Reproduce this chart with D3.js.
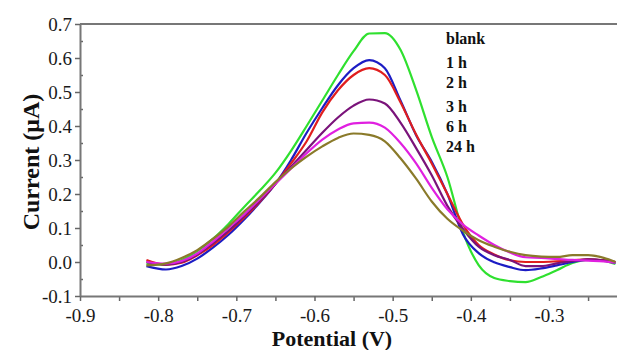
<!DOCTYPE html>
<html>
<head>
<meta charset="utf-8">
<script src="https://cdn.jsdelivr.net/npm/d3@7"></script>
<style>
   body { margin: 0; background: #fff; }
   svg { display: block; }
</style>
</head>
<body>
<script>
"use strict"

// potential (V), shared by all scans
const potential = [-0.815, -0.79, -0.77, -0.75, -0.73, -0.71, -0.69, -0.67, -0.65, -0.63,
   -0.61, -0.59, -0.57, -0.55, -0.53, -0.51, -0.49, -0.47, -0.45, -0.43,
   -0.41, -0.39, -0.37, -0.35, -0.33, -0.31, -0.29, -0.27, -0.25, -0.23, -0.215]

// current (uA)
const blank = [-0.005, -0.008, 0.006, 0.032, 0.068, 0.112, 0.162, 0.21, 0.262, 0.327,
   0.4, 0.475, 0.55, 0.62, 0.672, 0.673, 0.624, 0.506, 0.368, 0.25,
   0.088, -0.009, -0.047, -0.056, -0.059, -0.044, -0.024, -0.003, 0.006, 0.003, -0.006]
const h1 = [-0.012, -0.022, -0.012, 0.01, 0.042, 0.08, 0.125, 0.175, 0.23, 0.3,
   0.38, 0.453, 0.52, 0.57, 0.594, 0.57, 0.475, 0.373, 0.295, 0.2,
   0.081, 0.026, -0.001, -0.015, -0.024, -0.019, -0.01, 0.0, 0.007, 0.004, -0.003]
const h2 = [0.006, -0.008, -0.002, 0.02, 0.05, 0.088, 0.13, 0.177, 0.23, 0.29,
   0.355, 0.44, 0.505, 0.55, 0.57, 0.55, 0.47, 0.375, 0.29, 0.2,
   0.11, 0.05, 0.022, 0.005, 0.0, 0.0, 0.002, 0.005, 0.008, 0.005, 0.0]
const h3 = [0.0, -0.008, 0.0, 0.022, 0.055, 0.092, 0.135, 0.18, 0.23, 0.28,
   0.33, 0.38, 0.425, 0.46, 0.478, 0.466, 0.41, 0.335, 0.255, 0.165,
   0.097, 0.045, 0.02, 0.006, -0.012, -0.012, -0.004, 0.003, 0.008, 0.005, 0.0]
const h6 = [0.0, -0.005, 0.003, 0.025, 0.06, 0.1, 0.14, 0.185, 0.23, 0.275,
   0.32, 0.36, 0.39, 0.408, 0.41, 0.395, 0.35, 0.29, 0.218, 0.155,
   0.11, 0.078, 0.05, 0.028, 0.014, 0.012, 0.009, 0.006, 0.004, 0.002, -0.002]
const h24 = [-0.01, -0.004, 0.012, 0.035, 0.068, 0.105, 0.148, 0.19, 0.235, 0.275,
   0.31, 0.34, 0.365, 0.378, 0.374, 0.355, 0.305, 0.245, 0.178, 0.127,
   0.092, 0.064, 0.045, 0.03, 0.02, 0.016, 0.015, 0.02, 0.02, 0.012, 0.0]

const labels = ['blank', '1 h', '2 h', '3 h', '6 h', '24 h']
const xTicks = [-0.9, -0.8, -0.7, -0.6, -0.5, -0.4, -0.3]
const yTicks = [-0.1, 0.0, 0.1, 0.2, 0.3, 0.4, 0.5, 0.6, 0.7]

const series = [blank, h1, h2, h3, h6, h24]
const colors = ['#2fe02f', '#1c1cc4', '#e01e1e', '#7a137a', '#e020e0', '#8a7a2a']
const legendY = [44, 68, 88, 112, 132, 152]

const w = 617
const h = 350
const pad_l = 80, pad_r = 617, pad_t = 24, pad_b = 296
const serif = "'Liberation Serif', 'Times New Roman', serif"

const x_scale = d3.scaleLinear([-0.9, -0.213], [pad_l, pad_r])
const y_scale = d3.scaleLinear([-0.1, 0.7], [pad_b, pad_t])

let svg = d3.select('body')
   .append('svg')
      .attr('width', w)
      .attr('height', h)

// minor ticks
svg.append('g')
   .attr('transform', `translate(0, ${pad_b})`)
   .call(d3.axisBottom(x_scale).tickValues([-0.85, -0.75, -0.65, -0.55, -0.45, -0.35, -0.25]).tickSize(5).tickFormat(''))
   .call(g => g.select('.domain').remove())
   .call(g => g.selectAll('line').attr('stroke', '#666').attr('stroke-width', 1.5))

svg.append('g')
   .attr('transform', `translate(${pad_l}, 0)`)
   .call(d3.axisRight(y_scale).tickValues(d3.range(-0.05, 0.7, 0.1)).tickSize(3).tickFormat(''))
   .call(g => g.select('.domain').remove())
   .call(g => g.selectAll('line').attr('stroke', '#666').attr('stroke-width', 1.5))

svg.append('g')
   .attr('id', 'x-axis')
   .attr('transform', `translate(0, ${pad_b})`)
   .call(d3.axisBottom(x_scale).tickValues(xTicks).tickSize(5).tickSizeOuter(0).tickPadding(8)
      .tickFormat(d => d.toFixed(1)))

svg.append('g')
   .attr('id', 'y-axis')
   .attr('transform', `translate(${pad_l}, 0)`)
   .call(d3.axisLeft(y_scale).tickValues(yTicks).tickSize(5).tickSizeOuter(0).tickPadding(3)
      .tickFormat(d => d.toFixed(1)))

svg.selectAll('#x-axis, #y-axis')
   .attr('font-family', serif)
   .attr('font-size', 19)
svg.selectAll('#x-axis text, #y-axis text')
   .style('font-family', serif)
   .style('font-size', '19px')
   .attr('fill', '#1a1a1a')

svg.selectAll('.domain')
   .attr('stroke', '#777')
   .attr('stroke-width', 2)
svg.selectAll('#x-axis line, #y-axis line')
   .attr('stroke', '#666')
   .attr('stroke-width', 1.5)

// top frame line
svg.append('line')
   .attr('x1', pad_l).attr('x2', pad_r)
   .attr('y1', y_scale(0.7)).attr('y2', y_scale(0.7))
   .attr('stroke', '#777')
   .attr('stroke-width', 2)

const line = d3.line()
   .x((d, i) => x_scale(potential[i]))
   .y(d => y_scale(d))
   .curve(d3.curveMonotoneX)

svg.selectAll('path.scan')
   .data(series)
   .enter()
   .append('path')
      .attr('class', 'scan')
      .attr('d', line)
      .attr('fill', 'none')
      .attr('stroke', (d, i) => colors[i])
      .attr('stroke-width', 2.2)
      .attr('stroke-linejoin', 'round')

svg.selectAll('text.legend')
   .data(labels)
   .enter()
   .append('text')
      .attr('class', 'legend')
      .attr('x', 446)
      .attr('y', (d, i) => legendY[i])
      .style('font-family', serif)
      .style('font-weight', 'bold')
      .style('font-size', '16px')
      .attr('fill', '#111')
      .text(d => d)

svg.append('text')
   .attr('transform', 'translate(39, 162) rotate(-90)')
   .attr('text-anchor', 'middle')
   .style('font-family', serif)
   .style('font-weight', 'bold')
   .style('font-size', '24px')
   .attr('fill', '#111')
   .text('Current (μA)')

svg.append('text')
   .attr('x', 332)
   .attr('y', 346)
   .attr('text-anchor', 'middle')
   .style('font-family', serif)
   .style('font-weight', 'bold')
   .style('font-size', '22px')
   .attr('fill', '#111')
   .text('Potential (V)')
</script>
</body>
</html>
